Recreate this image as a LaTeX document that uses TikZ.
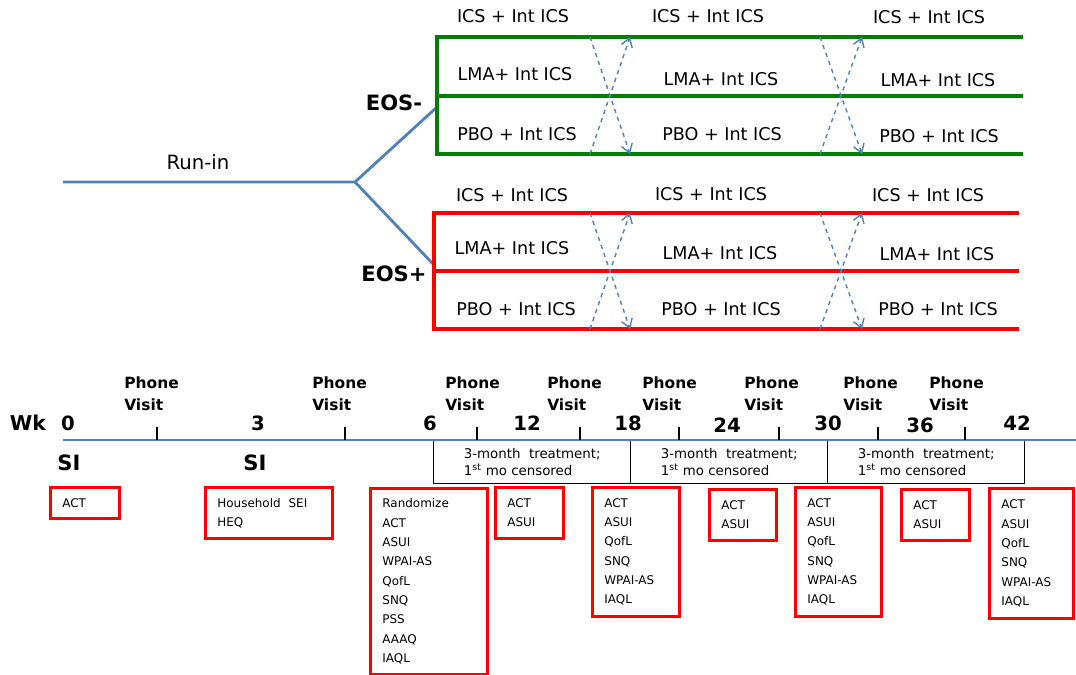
\documentclass[tikz,border=0pt]{standalone}
\usepackage{fontspec}
\setmainfont{DejaVu Sans}
\usepackage{tikz}
\usetikzlibrary{arrows.meta}
\definecolor{lineblue}{RGB}{79,129,189}
\definecolor{armgreen}{RGB}{0,128,0}
\definecolor{armred}{RGB}{255,0,0}

\begin{document}
\begin{tikzpicture}[x=0.025cm, y=-0.025cm,
	armlabel/.style={font=\fontsize{12.5}{15}\selectfont},
	eoslabel/.style={font=\bfseries\fontsize{15}{17}\selectfont},
	greenarm/.style={draw=armgreen, line width=2.8pt},
	redarm/.style={draw=armred, line width=2.8pt},
	switcharrow/.style={draw=lineblue, dashed, line width=1pt, -{Straight Barb[length=6pt,width=8pt]}},
	bluepath/.style={draw=lineblue, line width=2pt},
	weeknum/.style={font=\bfseries\fontsize{14}{16}\selectfont},
	phonevisit/.style={font=\bfseries\fontsize{11}{15.5}\selectfont, align=left, anchor=west, inner sep=0pt},
	txbox/.style={draw, line width=1pt, anchor=north west, minimum width=4.925cm, minimum height=1.075cm, align=left, font=\fontsize{9.5}{12.5}\selectfont},
	redbox/.style={draw=armred, line width=2pt, anchor=north west, align=left, inner xsep=0.3cm, inner ysep=2pt, font=\fontsize{8.5}{13.75}\selectfont}
]
	\useasboundingbox (0,0) rectangle (1076,675);

	% run-in and the two strata
	\coordinate (runstart) at (63,182);
	\coordinate (fork) at (355,182);
	\coordinate (eosminus) at (437,107);
	\coordinate (eosplus) at (434,265);
	\draw[bluepath] (runstart) -- (fork) -- (eosminus);
	\draw[bluepath] (fork) -- (eosplus);
	\node[font=\fontsize{14}{16}\selectfont] (runin) at (198,162) {Run-in};
	\node[eoslabel] (eosm) at (394,103) {EOS-};
	\node[eoslabel] (eosp) at (394,274) {EOS+};

	% EOS- arms
	\draw[greenarm] (1023,37) -- (437,37) -- (437,154) -- (1023,154);
	\draw[greenarm] (437,96) -- (1023,96);

	% EOS+ arms
	\draw[redarm] (1019,213) -- (434,213) -- (434,329) -- (1019,329);
	\draw[redarm] (434,271) -- (1019,271);

	% crossovers
	\foreach \top/\bot in {37/154, 213/329}
		\foreach \xa/\xb in {590/630, 820/862} {
			\draw[switcharrow] (\xa,\top) -- (\xb,\bot);
			\draw[switcharrow] (\xa,\bot) -- (\xb,\top);
		}

	\node[armlabel] (g11) at (513,16) {ICS + Int ICS};
	\node[armlabel] (g12) at (708,16) {ICS + Int ICS};
	\node[armlabel] (g13) at (929,17) {ICS + Int ICS};
	\node[armlabel] (g21) at (515,74) {LMA+ Int ICS};
	\node[armlabel] (g22) at (721,79) {LMA+ Int ICS};
	\node[armlabel] (g23) at (938,80) {LMA+ Int ICS};
	\node[armlabel] (g31) at (517,134) {PBO + Int ICS};
	\node[armlabel] (g32) at (722,134) {PBO + Int ICS};
	\node[armlabel] (g33) at (939,136) {PBO + Int ICS};

	\node[armlabel] (r11) at (512,195) {ICS + Int ICS};
	\node[armlabel] (r12) at (711,194) {ICS + Int ICS};
	\node[armlabel] (r13) at (928,195) {ICS + Int ICS};
	\node[armlabel] (r21) at (512,248) {LMA+ Int ICS};
	\node[armlabel] (r22) at (720,253) {LMA+ Int ICS};
	\node[armlabel] (r23) at (937,254) {LMA+ Int ICS};
	\node[armlabel] (r31) at (516,309) {PBO + Int ICS};
	\node[armlabel] (r32) at (721,309) {PBO + Int ICS};
	\node[armlabel] (r33) at (938,309) {PBO + Int ICS};

	% treatment periods
	\node[txbox] (tx1) at (433,440) {3-month\ \ treatment;\\1\textsuperscript{st} mo censored};
	\node[txbox] (tx2) at (630,440) {3-month\ \ treatment;\\1\textsuperscript{st} mo censored};
	\node[txbox] (tx3) at (827,440) {3-month\ \ treatment;\\1\textsuperscript{st} mo censored};

	% timeline
	\coordinate (tlstart) at (63,440);
	\coordinate (tlend) at (1076,440);
	\draw[bluepath] (tlstart) -- (tlend);
	\foreach \x in {157,345,477,580,679,779,878,965}
		\draw[line width=2pt] (\x,427) -- (\x,440);

	\foreach \x in {124,312,445,547,642,744,843,929}
		\node[phonevisit] at (\x,394) {Phone\\Visit};

	\node[weeknum, font=\bfseries\fontsize{14.5}{16}\selectfont] (wk) at (28,423) {Wk};
	\node[weeknum] (w0) at (68,423) {0};
	\node[weeknum] (w3) at (258,423) {3};
	\node[weeknum] (w6) at (430,423) {6};
	\node[weeknum] (w12) at (527,423) {12};
	\node[weeknum] (w18) at (628,423) {18};
	\node[weeknum] (w24) at (727,425) {24};
	\node[weeknum] (w30) at (828,423) {30};
	\node[weeknum] (w36) at (920,425) {36};
	\node[weeknum] (w42) at (1017,423) {42};

	\node[eoslabel] (si0) at (69,463) {SI};
	\node[eoslabel] (si3) at (255,463) {SI};

	% assessments
	\node[redbox, text width=1.125cm, minimum height=0.775cm] (a0) at (49,486) {ACT};
	\node[redbox, text width=2.575cm, minimum height=1.275cm] (a3) at (204,486) {Household\ \ SEI\\HEQ};
	\node[redbox, text width=2.325cm, minimum height=4.65cm] (a6) at (369,487) {Randomize\\ACT\\ASUI\\WPAI-AS\\QofL\\SNQ\\PSS\\AAAQ\\IAQL};
	\node[redbox, text width=1.1cm, minimum height=1.275cm] (a12) at (494,486) {ACT\\ASUI};
	\node[redbox, text width=1.575cm, minimum height=3.225cm] (a18) at (591,486) {ACT\\ASUI\\QofL\\SNQ\\WPAI-AS\\IAQL};
	\node[redbox, text width=1.075cm, minimum height=1.275cm] (a24) at (708,488) {ACT\\ASUI};
	\node[redbox, text width=1.55cm, minimum height=3.225cm] (a30) at (794,486) {ACT\\ASUI\\QofL\\SNQ\\WPAI-AS\\IAQL};
	\node[redbox, text width=1.1cm, minimum height=1.275cm] (a36) at (900,488) {ACT\\ASUI};
	\node[redbox, text width=1.5cm, minimum height=3.25cm] (a42) at (988,487) {ACT\\ASUI\\QofL\\SNQ\\WPAI-AS\\IAQL};

\end{tikzpicture}
\end{document}
